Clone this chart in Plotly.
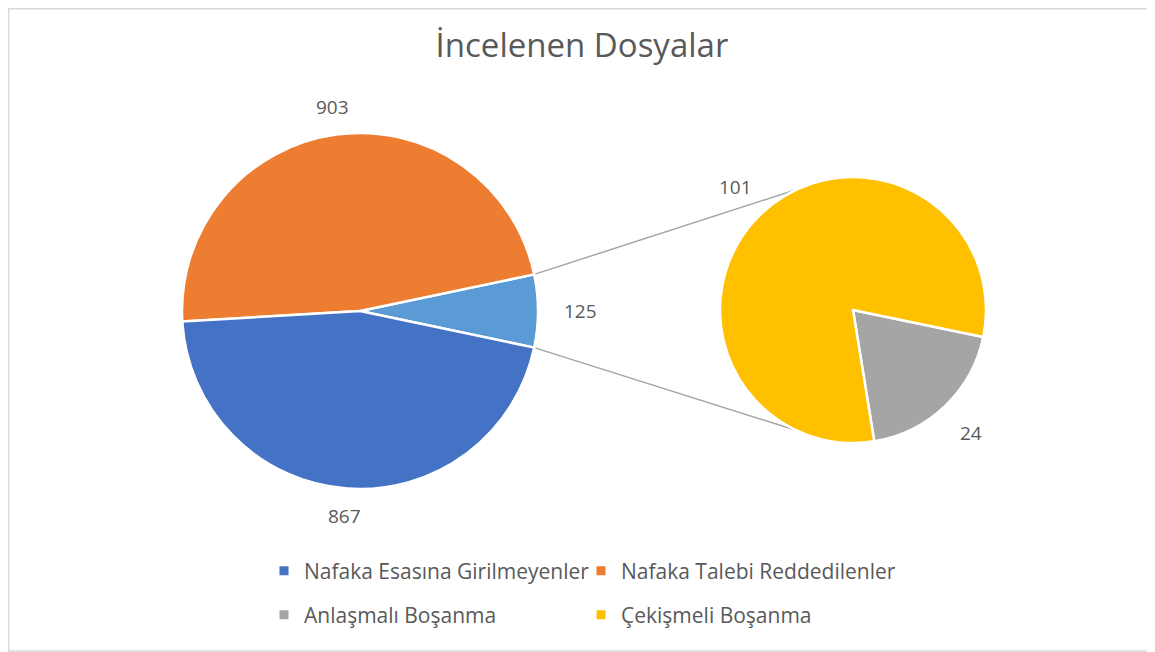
import math

import plotly.graph_objects as go

# data
main_labels = ["Diğer", "Nafaka Talebi Reddedilenler", "Nafaka Esasına Girilmeyenler"]
main_values = [125, 903, 867]
main_colors = ["#5B9BD5", "#ED7D31", "#4472C4"]

sub_labels = ["Anlaşmalı Boşanma", "Çekişmeli Boşanma"]
sub_values = [24, 101]
sub_colors = ["#A5A5A5", "#FFC000"]

legend_row1 = ["Nafaka Esasına Girilmeyenler", "Nafaka Talebi Reddedilenler"]
legend_row1_colors = ["#4472C4", "#ED7D31"]
legend_row2 = ["Anlaşmalı Boşanma", "Çekişmeli Boşanma"]
legend_row2_colors = ["#A5A5A5", "#FFC000"]

# the page body has an 8px margin, so the figure is a bit smaller than the window
OFF = 8
W, H = 1147, 644
FONT = "Open Sans"
TXT = "#595959"

# pie geometry in page pixels (center x, center y, radius)
LEFT = (360, 311, 178)
RIGHT = (853, 310, 133)
SUB_ROTATION = 101.7  # clock degrees where the first small slice ends (plotly ccw)


def px(x):
    return (x - OFF) / W


def py(y):
    return 1 - (y - OFF) / H


def domain(c):
    cx, cy, r = c
    return dict(x=[px(cx - r), px(cx + r)], y=[py(cy + r), py(cy - r)])


def point(c, ang, extra=0):
    # ang: math degrees (counterclockwise from east)
    cx, cy, r = c
    rr = r + extra
    return cx + rr * math.cos(math.radians(ang)), cy - rr * math.sin(math.radians(ang))


main_total = sum(main_values)
other_half = main_values[0] / main_total * 180
main_rotation = 90 - other_half

fig = go.Figure()

fig.add_trace(
    go.Pie(
        labels=main_labels,
        values=main_values,
        marker=dict(colors=main_colors, line=dict(color="white", width=2.5)),
        sort=False,
        direction="counterclockwise",
        rotation=main_rotation,
        textinfo="none",
        hoverinfo="label+value",
        showlegend=False,
        domain=domain(LEFT),
    )
)

fig.add_trace(
    go.Pie(
        labels=sub_labels,
        values=sub_values,
        marker=dict(colors=sub_colors, line=dict(color="white", width=2.5)),
        sort=False,
        direction="counterclockwise",
        rotation=SUB_ROTATION,
        textinfo="none",
        hoverinfo="label+value",
        showlegend=False,
        domain=domain(RIGHT),
    )
)

# legend entries (the "other" slice is not in the legend)
for names, colors, leg in [
    (legend_row1, legend_row1_colors, "legend"),
    (legend_row2, legend_row2_colors, "legend2"),
]:
    for name, col in zip(names, colors):
        fig.add_trace(
            go.Scatter(
                x=[None],
                y=[None],
                mode="markers",
                name=name,
                marker=dict(symbol="square", size=9, color=col),
                legend=leg,
            )
        )

annotations = []


def add_labels(c, values, rotation):
    # plotly ccw: first slice ends at `rotation` (clock degrees)
    total = sum(values)
    ang = 90 - rotation - values[0] / total * 360
    for v in values:
        span = v / total * 360
        mid = ang + span / 2
        ang += span
        extra = 26 + 16 * abs(math.cos(math.radians(mid)))
        x, y = point(c, mid, extra)
        annotations.append(
            dict(
                x=px(x),
                y=py(y),
                xref="paper",
                yref="paper",
                text=str(v),
                showarrow=False,
                xanchor="center",
                yanchor="middle",
                font=dict(family=FONT, size=19, color=TXT),
            )
        )


add_labels(LEFT, main_values, main_rotation)
add_labels(RIGHT, sub_values, SUB_ROTATION)

# connector lines from the "other" slice to the second pie
shapes = []
for sgn in (1, -1):
    x0, y0 = point(LEFT, sgn * other_half)
    x1, y1 = point(RIGHT, sgn * 115)
    shapes.append(
        dict(
            type="line",
            xref="paper",
            yref="paper",
            x0=px(x0),
            y0=py(y0),
            x1=px(x1),
            y1=py(y1),
            line=dict(color="#A5A5A5", width=1.5),
            layer="below",
        )
    )

# chart frame
shapes.append(
    dict(
        type="rect",
        xref="paper",
        yref="paper",
        x0=px(8.7),
        y0=py(651),
        x1=px(1154),
        y1=py(8.7),
        line=dict(color="#D9D9D9", width=1.5),
    )
)

legend_common = dict(
    orientation="h",
    entrywidth=272,
    entrywidthmode="pixels",
    xanchor="left",
    yanchor="middle",
    font=dict(family=FONT, size=21, color=TXT),
    bgcolor="rgba(0,0,0,0)",
    itemclick=False,
    itemdoubleclick=False,
)

fig.update_layout(
    width=W,
    height=H,
    margin=dict(l=0, r=0, t=0, b=0),
    paper_bgcolor="white",
    plot_bgcolor="white",
    title=dict(
        text="İncelenen Dosyalar",
        x=px(582),
        xanchor="center",
        y=py(45),
        yanchor="middle",
        font=dict(family=FONT, size=33, color=TXT),
    ),
    xaxis=dict(visible=False),
    yaxis=dict(visible=False),
    legend=dict(x=px(264), y=py(571), **legend_common),
    legend2=dict(x=px(264), y=py(615), **legend_common),
    annotations=annotations,
    shapes=shapes,
)

fig.write_html("out.html")
